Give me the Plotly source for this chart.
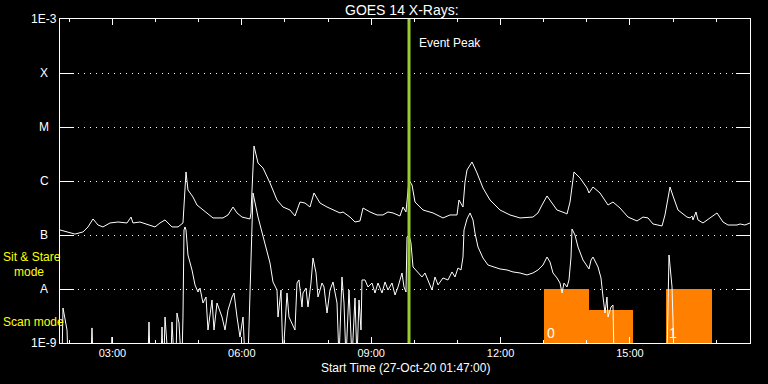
import math
import plotly.graph_objects as go
import pandas as pd

# ---- data (UT hours on 27-Oct-2020, flux in W/m^2) ----
long_t = [1.783, 2.015, 2.131, 2.317, 2.433, 2.549, 2.665, 2.780, 2.943, 3.128,
          3.337, 3.430, 3.476, 3.638, 3.801, 3.986, 4.102, 4.218, 4.380, 4.520,
          4.635, 4.705, 4.751, 4.867, 4.960, 5.192, 5.331, 5.563, 5.679, 5.795,
          5.888, 6.004, 6.189, 6.212, 6.259, 6.282, 6.375, 6.491, 6.653, 6.815,
          6.954, 7.117, 7.232, 7.348, 7.464, 7.580, 7.673, 7.812, 7.975, 8.114,
          8.276, 8.346, 8.508, 8.624, 8.740, 8.810, 8.972, 9.134, 9.273, 9.389,
          9.505, 9.667, 9.737, 9.806, 9.876, 9.946, 10.015, 10.201, 10.433, 10.664,
          10.827, 10.989, 11.035, 11.128, 11.175, 11.221, 11.337, 11.453, 11.592, 11.754,
          11.986, 12.218, 12.450, 12.751, 12.867, 12.960, 13.076, 13.192, 13.308, 13.494,
          13.540, 13.610, 13.679, 13.702, 13.841, 14.004, 14.050, 14.143, 14.305, 14.491,
          14.606, 14.769, 14.955, 15.163, 15.302, 15.418, 15.534, 15.743, 15.812, 15.858,
          15.928, 15.998, 16.114, 16.322, 16.392, 16.438, 16.461, 16.531, 16.577, 16.693,
          16.855, 17.018, 17.157, 17.273, 17.482, 17.552, 17.667, 17.783]
long_flux = [1.24e-7, 1.08e-7, 1.04e-7, 1.14e-7, 1.41e-7, 1.98e-7, 1.53e-7, 1.41e-7, 1.67e-7, 1.74e-7,
             1.67e-7, 2.15e-7, 1.67e-7, 1.74e-7, 1.60e-7, 1.41e-7, 1.67e-7, 1.90e-7, 1.41e-7, 1.41e-7,
             1.67e-7, 1.47e-6, 6.81e-7, 5.06e-7, 3.59e-7, 2.56e-7, 2.07e-7, 2.07e-7, 2.35e-7, 3.30e-7,
             2.56e-7, 2.15e-7, 1.98e-7, 2.56e-7, 2.15e-6, 4.45e-6, 2.15e-6, 1.74e-6, 9.18e-7, 4.45e-7,
             3.30e-7, 2.90e-7, 2.25e-7, 4.08e-7, 3.91e-7, 3.30e-7, 6.00e-7, 3.91e-7, 3.30e-7, 2.90e-7,
             2.56e-7, 2.67e-7, 2.15e-7, 1.74e-7, 1.82e-7, 3.16e-7, 2.67e-7, 2.35e-7, 2.35e-7, 2.67e-7,
             2.56e-7, 2.25e-7, 3.30e-7, 2.67e-7, 1.04e-6, 8.43e-7, 4.08e-7, 2.90e-7, 2.56e-7, 2.07e-7,
             2.35e-7, 2.35e-7, 4.45e-7, 3.30e-7, 9.58e-7, 1.60e-6, 2.25e-6, 1.41e-6, 7.42e-7, 4.45e-7,
             2.90e-7, 2.35e-7, 2.07e-7, 2.15e-7, 2.56e-7, 3.59e-7, 5.28e-7, 3.91e-7, 2.90e-7, 2.56e-7,
             2.45e-7, 4.08e-7, 1.04e-6, 1.47e-6, 1.14e-6, 7.42e-7, 6.00e-7, 7.74e-7, 6.00e-7, 3.59e-7,
             4.08e-7, 3.16e-7, 2.15e-7, 1.82e-7, 2.15e-7, 2.07e-7, 1.60e-7, 1.47e-7, 2.35e-7, 4.08e-7,
             7.74e-7, 5.28e-7, 2.90e-7, 2.15e-7, 2.07e-7, 2.25e-7, 1.90e-7, 2.67e-7, 1.90e-7, 1.67e-7,
             2.07e-7, 2.56e-7, 1.74e-7, 1.53e-7, 1.53e-7, 1.60e-7, 1.53e-7, 1.67e-7]

short_t = [1.783, 1.830, 1.853, 1.899, 1.946, 1.969, 2.502, 2.525, 2.549, 2.966,
           2.989, 3.012, 3.824, 3.847, 3.870, 4.126, 4.149, 4.172, 4.195, 4.218,
           4.288, 4.357, 4.380, 4.427, 4.473, 4.496, 4.543, 4.589, 4.612, 4.635,
           4.659, 4.682, 4.705, 4.751, 4.844, 4.914, 4.983, 5.030, 5.099, 5.169,
           5.215, 5.308, 5.354, 5.424, 5.540, 5.610, 5.679, 5.772, 5.818, 5.888,
           5.957, 6.027, 6.073, 6.143, 6.212, 6.259, 6.375, 6.491, 6.653, 6.722,
           6.815, 6.839, 6.908, 6.954, 7.047, 7.093, 7.232, 7.279, 7.325, 7.395,
           7.418, 7.488, 7.534, 7.603, 7.650, 7.720, 7.766, 7.859, 7.905, 7.975,
           8.044, 8.114, 8.207, 8.253, 8.322, 8.369, 8.415, 8.485, 8.554, 8.624,
           8.670, 8.717, 8.763, 8.786, 8.856, 8.925, 9.018, 9.088, 9.157, 9.250,
           9.320, 9.389, 9.482, 9.552, 9.621, 9.714, 9.760, 9.806, 9.830, 9.876,
           9.922, 9.969, 10.062, 10.178, 10.247, 10.317, 10.409, 10.479, 10.549, 10.664,
           10.780, 10.873, 10.943, 11.012, 11.082, 11.128, 11.152, 11.221, 11.291, 11.360,
           11.406, 11.476, 11.592, 11.708, 11.824, 11.986, 12.148, 12.288, 12.450, 12.612,
           12.751, 12.867, 12.983, 13.076, 13.146, 13.215, 13.308, 13.378, 13.424, 13.470,
           13.540, 13.586, 13.633, 13.656, 13.725, 13.795, 13.911, 14.004, 14.050, 14.097,
           14.143, 14.259, 14.328, 14.375, 14.421, 14.467, 14.491, 14.560, 14.606, 14.630,
           15.858, 15.905, 15.975, 15.998, 16.020, 17.783]
short_flux = [5e-10, 5e-10, 4.45e-9, 2.67e-9, 1.74e-9, 5e-10, 5e-10, 1.90e-9, 5e-10, 5e-10,
              1.29e-9, 5e-10, 5e-10, 2.45e-9, 5e-10, 5e-10, 1.98e-9, 5e-10, 5e-10, 3.03e-9,
              5e-10, 5e-10, 2.45e-9, 5e-10, 5e-10, 3.59e-9, 2.35e-9, 5e-10, 5e-10, 3.03e-9,
              1.24e-7, 1.41e-7, 1.24e-7, 4.26e-8, 2.25e-8, 1.19e-8, 8.80e-9, 1.04e-8, 5.50e-9, 7.11e-9,
              1.74e-9, 6.26e-9, 1.74e-9, 5.50e-9, 3.03e-9, 1.74e-9, 4.08e-9, 7.11e-9, 8.43e-9, 3.03e-9,
              1.29e-9, 3.03e-9, 5e-10, 5e-10, 2.25e-8, 6.00e-7, 2.15e-7, 9.18e-8, 3.03e-8, 1.35e-8,
              9.58e-9, 3.03e-9, 9.58e-9, 5e-10, 8.43e-9, 3.03e-9, 1.74e-9, 1.29e-8, 1.47e-8, 4.64e-9,
              8.43e-9, 1.04e-8, 4.64e-9, 1.29e-8, 3.75e-8, 1.98e-8, 7.11e-9, 1.29e-8, 1.09e-8, 3.59e-9,
              9.58e-9, 1.35e-8, 5.50e-9, 5e-10, 1.67e-8, 5.50e-9, 5e-10, 9.58e-9, 5e-10, 6.81e-9,
              5e-10, 6.26e-9, 1.74e-9, 1.47e-8, 1.47e-8, 1.09e-8, 1.29e-8, 8.43e-9, 1.29e-8, 8.43e-9,
              1.35e-8, 9.58e-9, 1.29e-8, 7.74e-9, 1.09e-8, 1.98e-8, 1.09e-8, 8.80e-9, 9.18e-8, 1.00e-7,
              7.11e-8, 2.56e-8, 2.07e-8, 1.67e-8, 1.98e-8, 1.47e-8, 9.58e-9, 1.67e-8, 1.19e-8, 1.60e-8,
              1.47e-8, 2.07e-8, 1.67e-8, 2.45e-8, 2.25e-8, 3.91e-8, 1.24e-7, 1.98e-7, 2.56e-7, 1.90e-7,
              1.09e-7, 6.00e-8, 3.75e-8, 2.78e-8, 2.56e-8, 2.35e-8, 2.25e-8, 2.07e-8, 1.98e-8, 1.82e-8,
              1.98e-8, 2.25e-8, 2.78e-8, 3.91e-8, 3.16e-8, 1.98e-8, 1.60e-8, 1.29e-8, 8.43e-9, 1.29e-8,
              1.09e-8, 1.47e-8, 3.91e-8, 1.29e-7, 1.00e-7, 6.00e-8, 3.44e-8, 2.56e-8, 2.35e-8, 3.44e-8,
              3.91e-8, 2.56e-8, 1.60e-8, 7.11e-9, 3.59e-9, 7.11e-9, 3.03e-9, 4.64e-9, 5.06e-9, 5e-10,
              5e-10, 4.26e-8, 1.09e-8, 2.5e-9, 5e-10, 5e-10]

mode_start = [13.00, 14.05, 15.835]
mode_end = [14.05, 15.07, 16.90]
mode_level = [1e-8, 4.08e-9, 1e-8]
mode_text = ["0", "", "1"]

peak_t = 9.876
y_tickvals = [1e-9, 1e-8, 1e-7, 1e-6, 1e-5, 1e-4, 1e-3]
y_ticktext = ["1E-9", "A", "B", "C", "M", "X", "1E-3"]
x_start_h = 1 + 47 / 60
x_end_h = 17 + 47 / 60
day = pd.Timestamp("2020-10-27")
FLOOR = 1e-9


def T(h):
    return day + pd.to_timedelta(h, unit="h")


FONT = "Liberation Sans"
fig = go.Figure()

mid = [(s + e) / 2 for s, e in zip(mode_start, mode_end)]
fig.add_trace(go.Bar(
    x=T(mid), y=[lv - FLOOR for lv in mode_level], base=[FLOOR] * len(mid),
    width=[(e - s) * 3600000 for s, e in zip(mode_start, mode_end)],
    marker=dict(color="#ff8000", line=dict(width=0)), hoverinfo="skip"))

fig.add_trace(go.Scatter(x=T(long_t), y=long_flux, mode="lines",
                         line=dict(color="white", width=1)))
fig.add_trace(go.Scatter(x=T(short_t), y=short_flux, mode="lines",
                         line=dict(color="white", width=1)))

fig.add_shape(type="line", xref="x", yref="paper", x0=T(peak_t), x1=T(peak_t),
              y0=0, y1=1, line=dict(color="#9acd32", width=3))

ann = []
for v, t in zip(y_tickvals, y_ticktext):
    ann.append(dict(xref="paper", yref="paper", x=-16 / 690, y=(math.log10(v) + 9) / 6,
                    text=t, showarrow=False, xanchor="center", yanchor="middle",
                    font=dict(family=FONT, size=12, color="white")))
ann.append(dict(xref="x", yref="paper", x=T(peak_t), y=(343 - 43) / 324, xshift=8,
                text="Event Peak", showarrow=False, xanchor="left", yanchor="middle",
                font=dict(family=FONT, size=12, color="white")))
for s, txt in zip(mode_start, mode_text):
    if txt:
        ann.append(dict(xref="x", yref="paper", x=T(s), y=(343 - 333) / 324, xshift=1,
                        text=txt, showarrow=False, xanchor="left", yanchor="middle",
                        font=dict(family=FONT, size=14, color="white")))
ann.append(dict(xref="paper", yref="paper", x=0.5, y=(343 - 368) / 324,
                text="Start Time (27-Oct-20 01:47:00)", showarrow=False,
                xanchor="center", yanchor="middle",
                font=dict(family=FONT, size=12, color="white")))
ann.append(dict(xref="paper", yref="paper", x=(402 - 60) / 690, y=(343 - 10) / 324,
                text="GOES 14 X-Rays:", showarrow=False,
                xanchor="center", yanchor="middle",
                font=dict(family=FONT, size=14, color="white")))
ann.append(dict(xref="paper", yref="paper", x=-59 / 690, y=(343 - 257) / 324,
                text="Sit & Stare", showarrow=False, xanchor="left", yanchor="middle",
                font=dict(family=FONT, size=12, color="#ffff00")))
ann.append(dict(xref="paper", yref="paper", x=-48 / 690, y=(343 - 272) / 324,
                text="mode", showarrow=False, xanchor="left", yanchor="middle",
                font=dict(family=FONT, size=12, color="#ffff00")))
ann.append(dict(xref="paper", yref="paper", x=-59 / 690, y=(343 - 322) / 324,
                text="Scan mode", showarrow=False, xanchor="left", yanchor="middle",
                font=dict(family=FONT, size=12, color="#ffff00")))

fig.update_layout(
    width=768, height=384,
    margin=dict(l=60, r=18, t=19, b=41),
    paper_bgcolor="black", plot_bgcolor="black",
    showlegend=False, bargap=0,
    font=dict(family=FONT, color="white", size=11),
    annotations=ann,
    xaxis=dict(type="date", range=[T(x_start_h), T(x_end_h)],
               tickformat="%H:%M", tick0="2020-10-27 00:00", dtick=3 * 3600000,
               ticks="inside", ticklen=6, tickcolor="white", tickwidth=1,
               minor=dict(dtick=3600000, ticks="inside", ticklen=3, tickcolor="white",
                          showgrid=False),
               showline=True, linecolor="white", linewidth=1, mirror="ticks",
               showgrid=False, zeroline=False,
               tickfont=dict(family=FONT, size=11, color="white")),
    yaxis=dict(type="log", range=[-9, -3], tickvals=y_tickvals, showticklabels=False,
               ticks="inside", ticklen=14, tickcolor="white", tickwidth=1,
               showline=True, linecolor="white", linewidth=1, mirror="ticks",
               showgrid=True, gridcolor="white", gridwidth=1, griddash="1px,5px",
               zeroline=False),
)

fig.write_html("out.html")
